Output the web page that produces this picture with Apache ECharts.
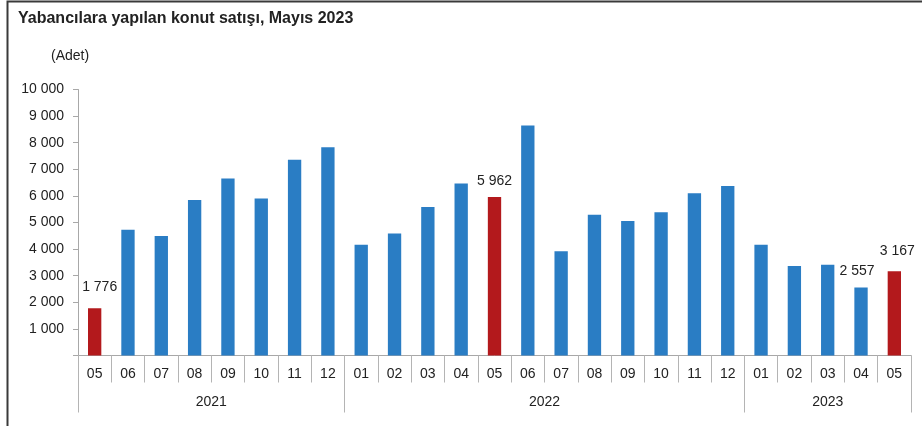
<!DOCTYPE html>
<html>
<head>
<meta charset="utf-8">
<script src="https://cdn.jsdelivr.net/npm/echarts@6/dist/echarts.min.js"></script>
<style>
  html, body { margin: 0; padding: 0; background: #fff; }
  #chart { width: 922px; height: 426px; }
</style>
</head>
<body>
<div id="chart"></div>
<script>
// veriler
var months = ['05','06','07','08','09','10','11','12',
              '01','02','03','04','05','06','07','08','09','10','11','12',
              '01','02','03','04','05'];
var sales = [1776, 4725, 4490, 5850, 6650, 5900, 7360, 7830,
             4160, 4590, 5580, 6470, 5962, 8650, 3920, 5290, 5060, 5390, 6100, 6370,
             4160, 3360, 3410, 2557, 3167];
var years = ['2021', '2022', '2023'];
var yearCounts = [8, 12, 5];
var highlighted = [0, 12, 24];      // Mayıs ayları (kırmızı)
var labelled = [0, 12, 23, 24];     // üzerinde değer yazan çubuklar
var yTicks = [0, 1000, 2000, 3000, 4000, 5000, 6000, 7000, 8000, 9000, 10000];

var BLUE = '#2a7dc4';
var RED = '#b3191c';
var FONT = '"Liberation Sans", Arial, sans-serif';

function fmt(v) {
  return String(v).replace(/\B(?=(\d{3})+(?!\d))/g, ' ');
}

// yıl grupları: sınırlar ve ortalar
var bounds = [0], centers = [];
yearCounts.forEach(function (c, i) {
  centers.push(bounds[i] + c / 2);
  bounds.push(bounds[i] + c);
});

var labelOffsets = { 0: [5, -5], 12: [0, 0], 23: [-4, 0], 24: [3, -4] };

var barData = sales.map(function (v, i) {
  var item = {
    value: v,
    itemStyle: { color: highlighted.indexOf(i) >= 0 ? RED : BLUE }
  };
  if (labelled.indexOf(i) >= 0) {
    item.label = {
      show: true,
      position: 'top',
      distance: 9,
      offset: labelOffsets[i],
      formatter: function (p) { return fmt(p.value); },
      fontFamily: FONT,
      fontSize: 14,
      color: '#222'
    };
  }
  return item;
});

var chart = echarts.init(document.getElementById('chart'));

var option = {
  animation: false,
  backgroundColor: '#fff',
  textStyle: { fontFamily: FONT },
  graphic: [
    {
      type: 'rect',
      shape: { x: 7.5, y: 1.5, width: 1000, height: 1000 },
      style: { fill: 'none', stroke: '#3a3a3a', lineWidth: 2 },
      silent: true
    },
    {
      type: 'text',
      left: 18, top: 11,
      style: {
        text: 'Yabancılara yapılan konut satışı, Mayıs 2023',
        font: 'bold 16px ' + FONT,
        fill: '#222'
      }
    },
    {
      type: 'text',
      left: 51, top: 49,
      style: { text: '(Adet)', font: '14px ' + FONT, fill: '#222' }
    }
  ],
  grid: { left: 78, right: 11, top: 89.5, bottom: 70.5 },
  xAxis: [
    {
      type: 'category',
      data: months,
      position: 'bottom',
      axisLine: { show: true, lineStyle: { color: '#a8a8a8', width: 1 } },
      axisTick: { show: true, interval: 0, length: 27, lineStyle: { color: '#b4b4b4' } },
      axisLabel: { interval: 0, margin: 12, fontSize: 14, color: '#222', fontFamily: FONT },
      splitLine: { show: false }
    },
    {
      type: 'value',
      min: 0,
      max: months.length,
      position: 'bottom',
      offset: 0,
      axisLine: { show: false },
      axisTick: { show: true, customValues: bounds, length: 57, lineStyle: { color: '#b4b4b4' } },
      axisLabel: {
        customValues: centers,
        margin: 40,
        fontSize: 14,
        color: '#222',
        fontFamily: FONT,
        formatter: function (v) {
          var i = centers.indexOf(v);
          return i >= 0 ? years[i] : '';
        }
      },
      splitLine: { show: false }
    }
  ],
  yAxis: {
    type: 'value',
    min: yTicks[0],
    max: yTicks[yTicks.length - 1],
    interval: 1000,
    axisLine: { show: true, lineStyle: { color: '#a8a8a8' } },
    axisTick: { show: true, length: 5, lineStyle: { color: '#a8a8a8' } },
    axisLabel: {
      margin: 14,
      fontSize: 14,
      color: '#222',
      fontFamily: FONT,
      formatter: function (v) { return v === 0 ? '' : fmt(v); }
    },
    splitLine: { show: false }
  },
  series: [
    {
      type: 'bar',
      xAxisIndex: 0,
      barWidth: '40%',
      data: barData
    }
  ]
};

chart.setOption(option);
</script>
</body>
</html>
